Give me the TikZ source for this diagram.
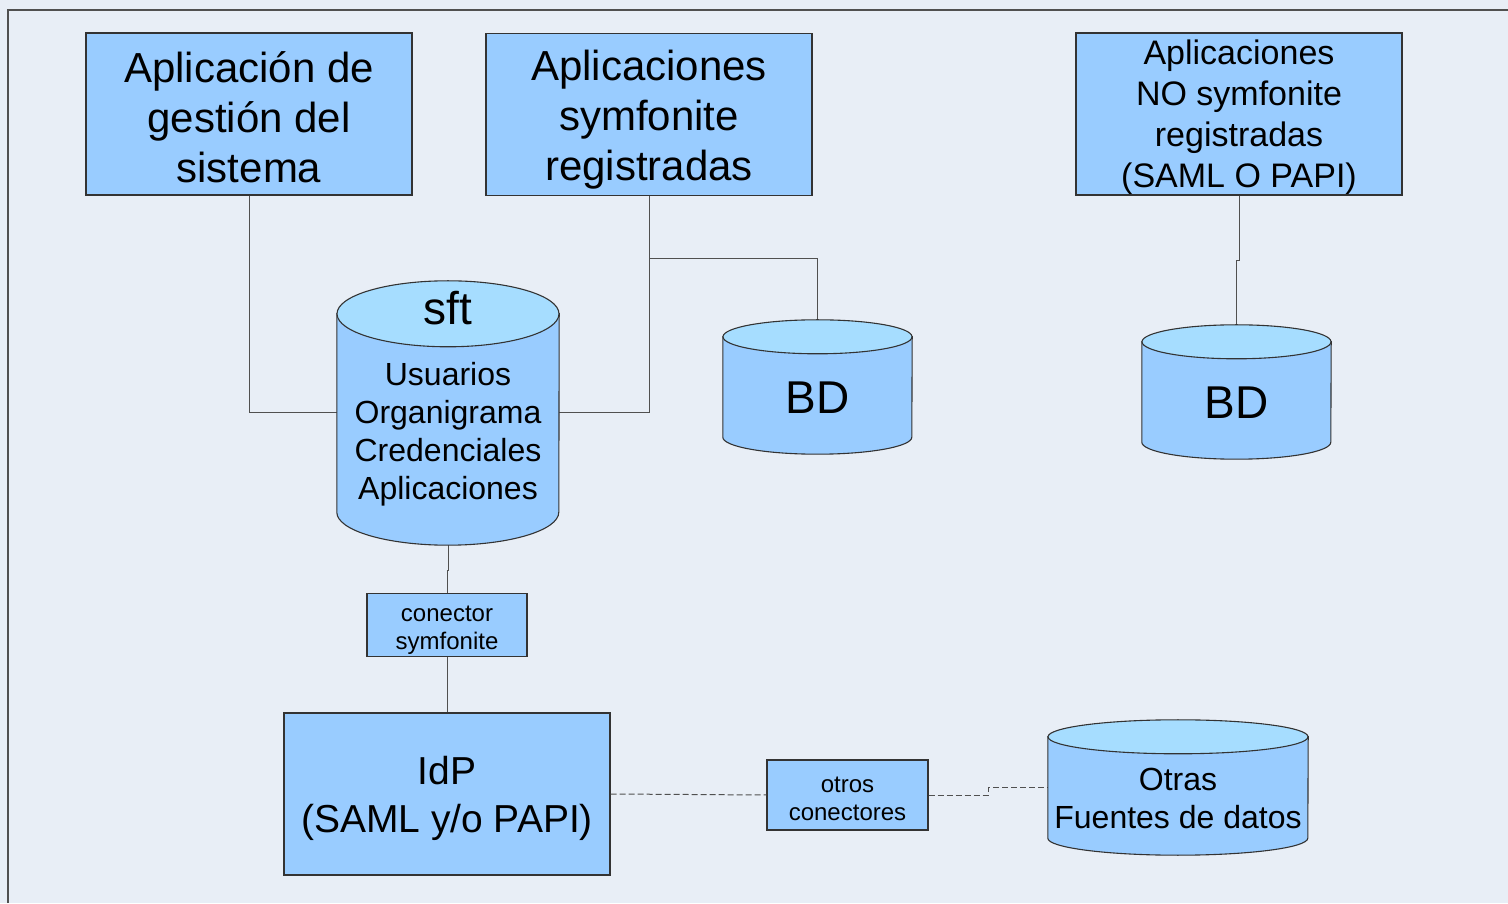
\documentclass[tikz,border=0pt]{standalone}
\usepackage{fontspec}
\setmainfont{Liberation Sans}
\usetikzlibrary{calc}

\definecolor{boxblue}{HTML}{99CCFF}
\definecolor{topblue}{HTML}{A6DDFF}
\definecolor{backg}{HTML}{E8EEF6}
\definecolor{edgegray}{HTML}{333333}
\definecolor{wiregray}{HTML}{505050}

\tikzset{
  appbox/.style={rectangle, draw=edgegray, fill=boxblue, line width=1.1pt, align=center,
    inner sep=2pt, minimum width=326pt, minimum height=162pt},
  smallbox/.style={rectangle, draw=edgegray, fill=boxblue, line width=1.1pt, align=center,
    inner sep=2pt, font=\fontsize{24}{28.5}\selectfont},
  dbholder/.style={rectangle, inner sep=0pt},
  dbbody/.style={draw=edgegray, fill=boxblue, line width=1.1pt},
  dbtop/.style={draw=edgegray, fill=topblue, line width=1.1pt},
  dbtitle/.style={font=\fontsize{46}{50}\selectfont},
  dbtext/.style={align=center, font=\fontsize{32}{38}\selectfont},
  wire/.style={draw=wiregray, line width=1pt},
  dotwire/.style={wire, dash pattern=on 6pt off 3pt},
}

% strut to push a text block down a little
\newcommand\padtop[1]{\rule{0pt}{#1}}

% cylinder round a holder node: #1 node, #2 half width, #3 end radius
\newcommand\dbdraw[3]{%
  \path[dbbody] ([yshift=-#3pt]#1.north west) -- ([yshift=#3pt]#1.south west)
    arc[start angle=180, end angle=360, x radius=#2, y radius=#3]
    -- ([yshift=-#3pt]#1.north east) -- cycle;
  \path[dbtop] ([yshift=-#3pt]#1.north) ellipse [x radius=#2, y radius=#3];
}

\begin{document}
\begin{tikzpicture}[x=1pt, y=1pt]
\useasboundingbox (0,0) rectangle (1508,903);
\fill[backg] (0,0) rectangle (1508,903);
\draw[wiregray, line width=1.2pt] (8,0) -- (8,893) -- (1508,893);

% applications
\node[appbox, font=\fontsize{42}{50}\selectfont] (gestion) at (249,789) {\padtop{38pt}Aplicación de\\gestión del\\sistema};
\node[appbox, font=\fontsize{42}{50}\selectfont] (symreg) at (649,788.5) {\padtop{41pt}Aplicaciones\\symfonite\\registradas};
\node[appbox, inner ysep=0pt, font=\fontsize{34}{41}\selectfont] (nosym) at (1239,789) {\padtop{31.5pt}Aplicaciones\\NO symfonite\\registradas\\(SAML O PAPI)};

% data stores
\node[dbholder, minimum width=222pt, minimum height=264pt] (sft) at (448,490) {};
\node[dbholder, minimum width=189pt, minimum height=134pt] (bdsym) at (817.5,516) {};
\node[dbholder, minimum width=189pt, minimum height=134pt] (bdnosym) at (1236.5,511) {};
\node[dbholder, minimum width=260pt, minimum height=135pt] (fuentes) at (1178,115.5) {};

% connectors and IdP
\node[smallbox, minimum width=160pt, minimum height=60pt] (consym) at (447,278) {\padtop{26pt}conector\\symfonite};
\node[appbox, font=\fontsize{39}{48}\selectfont] (idp) at (447,109) {\padtop{38pt}IdP\\(SAML y/o PAPI)};
\node[smallbox, minimum width=161pt, minimum height=70pt] (otros) at (847.5,108) {\padtop{23pt}otros\\conectores};

% lines
\draw[wire] (gestion.south) |- (sft.west);
\draw[wire] (symreg.south) |- (sft.east);
\draw[wire] (symreg.south) ++(0,-62) coordinate (split) -| (bdsym.north);
\draw[wire] (nosym.south) -- ++(0,-65) -| (bdnosym.north);
\draw[wire] (sft.south) -- ++(0,-25) -| (consym.north);
\draw[wire] (consym.south) -- (idp.north);
\draw[dotwire] (idp.east) -- (otros.west);
\draw[dotwire] (otros.east) -- ++(60,0) |- (fuentes.west);

\dbdraw{sft}{111}{33}
\dbdraw{bdsym}{94.5}{17}
\dbdraw{bdnosym}{94.5}{17}
\dbdraw{fuentes}{130}{17}

\node[dbtitle] (sftname) at ([yshift=-27pt]sft.north) {sft};
\node[dbtext] (sftdata) at ([yshift=-21.5pt]sft.center) {Usuarios\\Organigrama\\Credenciales\\Aplicaciones};
\node[dbtitle] (bdsymtxt) at ([yshift=-11pt]bdsym.center) {BD};
\node[dbtitle] (bdnosymtxt) at ([yshift=-11pt]bdnosym.center) {BD};
\node[dbtext] (fuentestxt) at ([yshift=-10.5pt]fuentes.center) {Otras\\Fuentes de datos};
\end{tikzpicture}
\end{document}
